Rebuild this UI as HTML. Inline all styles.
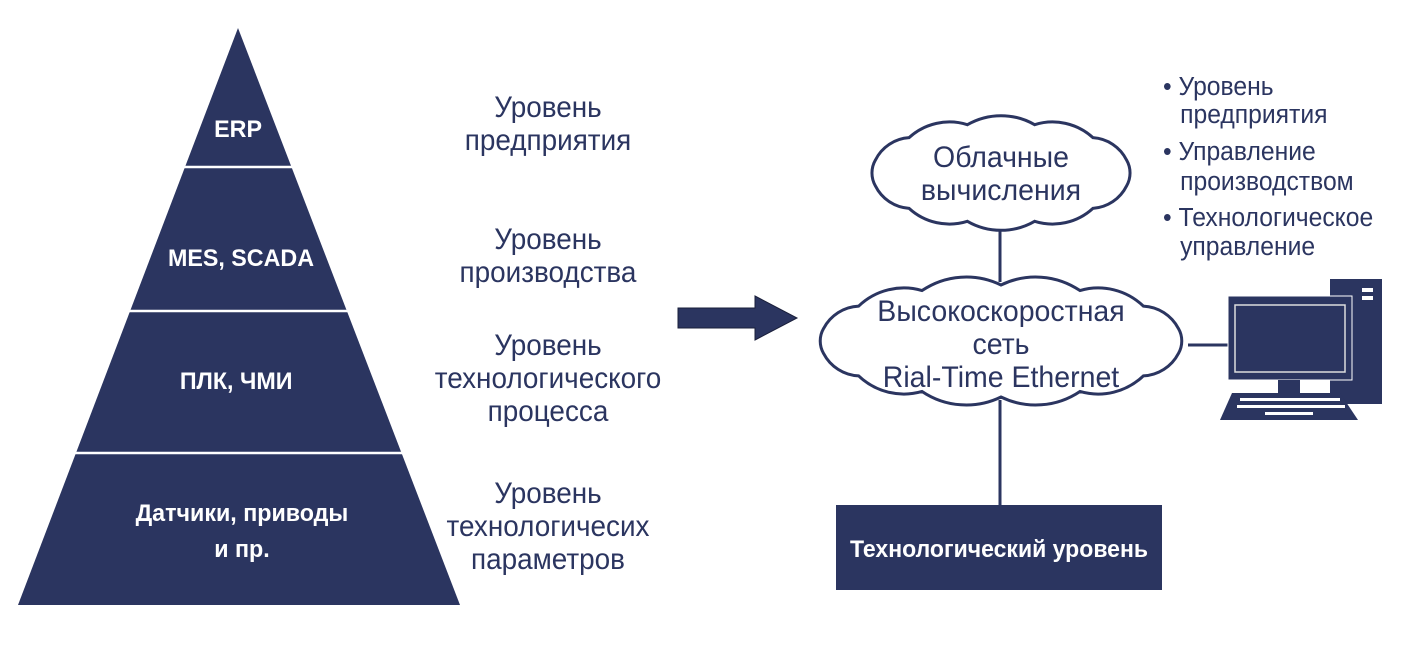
<!DOCTYPE html>
<html><head><meta charset="utf-8"><style>
html,body{margin:0;padding:0;background:#fff;}
svg{display:block;}
.t{font-family:"Liberation Sans",sans-serif;fill:#2b3560;}
.w{font-family:"Liberation Sans",sans-serif;fill:#fff;font-weight:bold;}
</style></head><body>
<svg width="1410" height="645" viewBox="0 0 1410 645" xmlns="http://www.w3.org/2000/svg">
<polygon points="238,28 460,605 18,605" fill="#2b3560"/>
<g stroke="#fff" stroke-width="2.5">
<line x1="150" y1="167" x2="330" y2="167"/>
<line x1="100" y1="311" x2="380" y2="311"/>
<line x1="60" y1="453" x2="420" y2="453"/>
</g>
<g class="w" font-size="24" text-anchor="middle" transform="translate(240,0) scale(0.97,1)">
<text x="-2" y="137">ERP</text>
<text x="1" y="266">MES, SCADA</text>
<text x="-4" y="389">ПЛК, ЧМИ</text>
<text x="2" y="521">Датчики, приводы</text>
<text x="2" y="557">и пр.</text>
</g>
<g class="t" font-size="30" text-anchor="middle" transform="translate(548,0) scale(0.93,1)">
<text x="0" y="117">Уровень</text>
<text x="0" y="150">предприятия</text>
<text x="0" y="249">Уровень</text>
<text x="0" y="282">производства</text>
<text x="0" y="355">Уровень</text>
<text x="0" y="388">технологического</text>
<text x="0" y="421">процесса</text>
<text x="0" y="503">Уровень</text>
<text x="0" y="536">технологичесих</text>
<text x="0" y="569">параметров</text>
</g>
<polygon points="678,308 755,308 755,296 797,318 755,340 755,328 678,328" fill="#2b3560" stroke="#1a1f3a" stroke-width="1"/>
<g stroke="#2b3560" stroke-width="3" fill="none">
<line x1="1000" y1="226" x2="1000" y2="282"/>
<line x1="1000" y1="400" x2="1000" y2="506"/>
<line x1="1188" y1="345" x2="1230" y2="345"/>
<path id="c1"/><path id="c2"/>
</g>
<g class="t" font-size="30" text-anchor="middle" transform="translate(1001,0) scale(0.95,1)">
<text x="0" y="167">Облачные</text>
<text x="0" y="200">вычисления</text>
<text x="0" y="321">Высокоскоростная</text>
<text x="0" y="354">сеть</text>
<text x="0" y="387">Rial-Time Ethernet</text>
</g>
<g class="t" font-size="26" transform="translate(1163,0) scale(0.95,1)">
<text x="0" y="95">• Уровень</text>
<text x="18" y="123">предприятия</text>
<text x="0" y="160">• Управление</text>
<text x="18" y="190">производством</text>
<text x="0" y="226">• Технологическое</text>
<text x="18" y="255">управление</text>
</g>
<rect x="836" y="505" width="326" height="85" fill="#2b3560"/>
<text class="w" font-size="24" text-anchor="middle" transform="translate(999,557) scale(0.96,1)">Технологический уровень</text>
<rect x="1330" y="279" width="52" height="125" fill="#2b3560"/>
<rect x="1362" y="288" width="11" height="4" fill="#fff"/>
<rect x="1362" y="296" width="11" height="4" fill="#fff"/>
<rect x="1228" y="296" width="124" height="84" fill="#2b3560" stroke="#fff" stroke-width="1"/>
<rect x="1235" y="305" width="110" height="67" fill="#2b3560" stroke="#ddd" stroke-width="1.5"/>
<rect x="1278" y="380" width="22" height="13" fill="#2b3560"/>
<polygon points="1232,393 1340,393 1358,420 1220,420" fill="#2b3560"/>
<g fill="#fff">
<rect x="1240" y="398" width="100" height="3"/>
<rect x="1237" y="405" width="108" height="3"/>
<rect x="1265" y="412" width="48" height="3"/>
</g>
</svg>
<script>
function cloud(id,cx,cy,rx,ry,n){
 var d="",pts=[];
 for(var i=0;i<n;i++){var a=2*Math.PI*i/n+Math.PI/n;pts.push([cx+rx*Math.cos(a),cy+ry*Math.sin(a)]);}
 d="M"+pts[0][0]+","+pts[0][1];
 for(var i=1;i<=n;i++){var p=pts[i%n],q=pts[i-1];var ch=Math.hypot(p[0]-q[0],p[1]-q[1]);var r=ch*1.0;
 d+=" A"+r+","+r+" 0 0 1 "+p[0]+","+p[1];}
 d+="Z";
 var el=document.getElementById(id);el.setAttribute("d",d);el.setAttribute("fill","#fff");
}
cloud("c1",1001,173,130,50,12);
cloud("c2",1001,341,182,56,14);
</script>
</body></html>
